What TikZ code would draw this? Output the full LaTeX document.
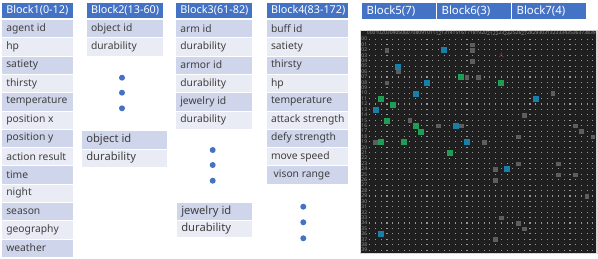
\documentclass[tikz,border=0pt]{standalone}
\usepackage{fontspec}
\setmainfont{Noto Sans}
\newfontfamily\cjkfont{Noto Sans CJK SC}
\definecolor{hdrblue}{HTML}{4472C4}
\definecolor{rowdark}{HTML}{CFD5EA}
\definecolor{rowlight}{HTML}{E9EBF5}
\definecolor{txtgray}{HTML}{404040}
\definecolor{panel}{HTML}{1F1F1F}
\definecolor{griddot}{HTML}{969696}
\definecolor{unitblue}{HTML}{1A7FA8}
\definecolor{unitgreen}{HTML}{1F9D57}
\definecolor{itemgray}{HTML}{5E5E5E}
\definecolor{agentred}{HTML}{B23A3A}

\begin{document}
\begin{tikzpicture}[
  x=1pt,y=-1pt,
  hdr/.style={rectangle,fill=hdrblue,draw=white,line width=0.6pt,text=white,anchor=north west,
    inner xsep=5pt,inner ysep=0pt,font=\fontsize{10.8}{12}\selectfont\bfseries},
  cell/.style={rectangle,draw=white,line width=0.6pt,text=txtgray,anchor=north west,
    inner xsep=5pt,inner ysep=0pt,minimum height=18.3pt,font=\fontsize{10.3}{13}\selectfont},
  bigcell/.style={cell,font=\fontsize{11.2}{14}\selectfont},
  dot/.style={circle,fill=hdrblue,inner sep=0pt,minimum size=6pt},
  unit/.style={rectangle,inner sep=0pt,minimum size=6pt},
  item/.style={rectangle,fill=itemgray,inner sep=0pt,minimum size=4.6pt},
  lbl/.style={text=griddot,inner sep=0pt,font=\fontsize{5}{5}\selectfont}
]
\useasboundingbox (0,0) rectangle (598,258);

% ===== BLOCK 1 =====
\node[hdr,minimum height=15.5pt] (b1) at (1,2) {\makebox[62pt][l]{Block1(0-12)}};
\foreach \t [count=\i from 0] in {agent id,hp,satiety,thirsty,temperature,position x,
    position y,action result,time,night,season,geography,weather}{
  \ifodd\i\def\rc{rowlight}\else\def\rc{rowdark}\fi
  \node[cell,fill=\rc] (b1r\i) at (1,19+18.3*\i) {\makebox[62pt][l]{\t}};
}

% ===== BLOCK 2 =====
\node[hdr,minimum height=15.5pt] (b2) at (85.7,2) {\makebox[67pt][l]{Block2(13-60)}};
\node[cell,fill=rowdark] (b2r0) at (85.7,19) {\makebox[67pt][l]{object id}};
\node[cell,fill=rowlight] (b2r1) at (85.7,37.3) {\makebox[67pt][l]{durability}};
\foreach \y [count=\i] in {77.7,92.7,108.3}
  \node[dot] (b2d\i) at (122,\y) {};
\node[bigcell,fill=rowdark,minimum height=18.5pt] (b2x0) at (81,130) {\makebox[75.7pt][l]{object id}};
\node[bigcell,fill=rowlight,minimum height=18.5pt] (b2x1) at (81,148.5) {\makebox[75.7pt][l]{durability}};

% ===== BLOCK 3 =====
\node[hdr,minimum height=15.5pt] (b3) at (175,2) {\makebox[66.7pt][l]{Block3(61-82)}};
\foreach \t [count=\i from 0] in {arm id,durability,armor id,durability,jewelry id,durability}{
  \ifodd\i\def\rc{rowlight}\else\def\rc{rowdark}\fi
  \node[cell,fill=\rc] (b3r\i) at (175,19+18.3*\i) {\makebox[66.7pt][l]{\t}};
}
\foreach \y [count=\i] in {150,165,180.7}
  \node[dot] (b3d\i) at (212.7,\y) {};
\node[bigcell,fill=rowdark,minimum height=17.2pt] (b3x0) at (176,202.3) {\makebox[65.7pt][l]{jewelry id}};
\node[bigcell,fill=rowlight,minimum height=17.2pt] (b3x1) at (176,219.5) {\makebox[65.7pt][l]{durability}};

% ===== BLOCK 4 =====
\node[hdr,minimum height=15.5pt] (b4) at (265.7,2) {\makebox[72.6pt][l]{Block4(83-172)}};
\foreach \t [count=\i from 0] in {buff id,satiety,thirsty,hp,temperature,attack strength,
    defy strength,move speed,{\ vison range}}{
  \ifodd\i\def\rc{rowlight}\else\def\rc{rowdark}\fi
  \node[cell,fill=\rc] (b4r\i) at (265.7,19+18.3*\i) {\makebox[72.6pt][l]{\t}};
}
\foreach \y [count=\i] in {206.7,222.3,238.3}
  \node[dot] (b4d\i) at (303.3,\y) {};

% ===== BLOCKS 5-7 =====
\foreach \t [count=\i from 0] in {Block5(7),Block6(3),Block7(4)}
  \node[hdr,font=\fontsize{11.4}{13}\selectfont,minimum height=17pt]
    (b5h\i) at (361.3+75*\i,2) {\makebox[65pt][l]{\t}};

% Map panel
\fill[gray!30] (360.2,30.2) rectangle (597.6,254.2);
\fill[panel] (360.7,30.7) rectangle (595.7,253.3);
\foreach \r in {0,...,39}
  \foreach \c in {0,...,39}
    \fill[griddot] (369.25+5.72*\c,38.55+5.41*\r) rectangle ++(1.1,1.1);
\foreach \r in {0,...,39}
  \node[lbl] (row\r) at (364.3,39.1+5.41*\r) {\ifnum\r<10 0\fi\r};
\foreach \c in {0,...,39}
  \node[lbl] (col\c) at (369.8+5.72*\c,33.2) {\ifnum\c<10 0\fi\c};

% Map items
\foreach \c/\r [count=\i] in {18/1,3/2,18/2,18/4,5/6,17/7,19/7,3/8,32/10,27/14,7/15,12/16,
    16/16,36/16,37/17,26/18,39/18,1/19,20/19,26/23,33/23,22/24,33/25,36/25,22/26,38/29,
    23/33,26/34,27/35,22/37}
  \node[item] (item\i) at (369.8+5.72*\c,39.6+5.41*\r) {};
\foreach \c/\r [count=\i] in {13/2,5/5,10/8,8/10,29/11,1/13,15/16,17/19,24/24,2/36}
  \node[unit,fill=unitblue] (blue\i) at (369.8+5.72*\c,39.6+5.41*\r) {};
\foreach \c/\r [count=\i] in {16/7,23/8,2/11,4/12,3/15,8/16,9/17,2/19,6/19,14/21}
  \node[unit,fill=unitgreen] (green\i) at (369.8+5.72*\c,39.6+5.41*\r) {};
\node[text=agentred,inner sep=0pt,font=\cjkfont\fontsize{5.5}{5.5}\selectfont] (agent)
  at (369.8+5.72*23,39.6+5.41*3) {人};

\end{tikzpicture}
\end{document}
